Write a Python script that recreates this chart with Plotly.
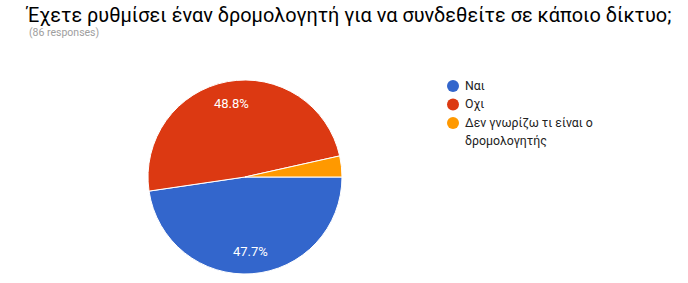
import math
import plotly.graph_objects as go

labels = ["Ναι", "Οχι", "Δεν γνωρίζω τι είναι ο δρομολογητής"]
legend_lines = [["Ναι"], ["Οχι"], ["Δεν γνωρίζω τι είναι ο", "δρομολογητής"]]
counts = [41, 42, 3]
colors = ["#3366cc", "#dc3912", "#ff9900"]
show_pct = [True, True, False]

W, H = 688, 283
cx, cy, R = 245, 177, 97  # pie centre / radius in pixels

fig = go.Figure()
fig.add_trace(go.Pie(
    labels=labels, values=counts, sort=False, direction="clockwise", rotation=90,
    marker=dict(colors=colors, line=dict(color="white", width=1)),
    textinfo="none", showlegend=False, hoverinfo="label+percent",
    domain=dict(x=[(cx - R) / W, (cx + R) / W], y=[(H - cy - R) / H, (H - cy + R) / H]),
))

annotations = [
    dict(text="Έχετε ρυθμίσει έναν δρομολογητή για να συνδεθείτε σε κάποιο δίκτυο;",
         x=23 / W, y=1 - 15 / H, xref="paper", yref="paper", xanchor="left", yanchor="middle",
         showarrow=False, font=dict(family="Roboto", size=19.9, color="#000000")),
    dict(text="(86 responses)", x=27 / W, y=1 - 32 / H, xref="paper", yref="paper",
         xanchor="left", yanchor="middle", showarrow=False,
         font=dict(family="Roboto", size=10.5, color="#9e9e9e")),
]

# percentage labels placed at slice mid-angles (derived from values)
total = sum(counts)
start = 0.0
for v, show in zip(counts, show_pct):
    frac = v / total
    mid = (start + frac / 2) * 2 * math.pi  # clockwise from 3 o'clock
    start += frac
    if not show:
        continue
    px = cx + 0.77 * R * math.cos(mid)
    py = cy + 0.77 * R * math.sin(mid)
    annotations.append(dict(text=f"{frac * 100:.1f}%", x=px / W, y=1 - py / H,
                            xref="paper", yref="paper", xanchor="center", yanchor="middle",
                            showarrow=False, font=dict(family="Roboto", size=13, color="white")))

# legend
shapes = []
ly = 86
for lines, col in zip(legend_lines, colors):
    shapes.append(dict(type="circle", xref="paper", yref="paper",
                       x0=(453 - 6) / W, x1=(453 + 6) / W, y0=1 - (ly + 6) / H, y1=1 - (ly - 6) / H,
                       fillcolor=col, line=dict(width=0)))
    for i, t in enumerate(lines):
        annotations.append(dict(text=t, x=463 / W, y=1 - (ly + i * 18) / H, xref="paper", yref="paper",
                                xanchor="left", yanchor="middle", showarrow=False,
                                font=dict(family="Roboto", size=12.3, color="#222222")))
    ly += 18.5 * len(lines)

fig.update_layout(
    width=W, height=H, margin=dict(l=0, r=0, t=0, b=0),
    paper_bgcolor="white", plot_bgcolor="white",
    annotations=annotations, shapes=shapes,
)
fig.write_html("out.html")
